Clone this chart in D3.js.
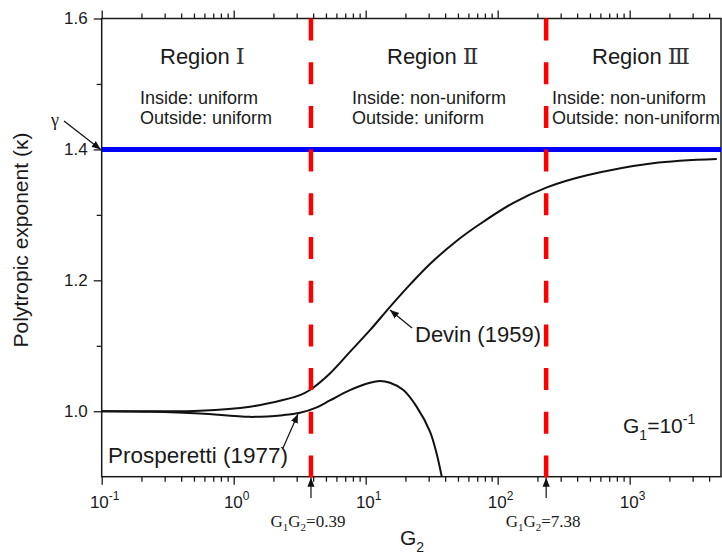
<!DOCTYPE html>
<html>
<head>
<meta charset="utf-8">
<script src="https://cdn.jsdelivr.net/npm/d3@7"></script>
<style>
  html, body { margin: 0; padding: 0; background: #fff; }
  svg { display: block; }
  text { font-family: "Liberation Sans", Arial, sans-serif; fill: #1a1a1a; }
</style>
</head>
<body>
<svg id="chart" width="722" height="554"></svg>
<script>
// ---------------- data ----------------
const devinG = [0.1, 0.25, 0.556, 1.33, 2.36, 3.18, 3.78, 5.36, 7.6, 10.78, 15.28, 22, 30.7, 48, 73.4, 130.6, 236, 475, 1500, 4570];
const devinK = [1.0, 1.0, 1.0008, 1.0069, 1.0171, 1.0247, 1.0325, 1.0577, 1.0907, 1.1238, 1.1595, 1.195, 1.225, 1.259, 1.286, 1.318, 1.342, 1.3605, 1.379, 1.3855];

const prospG = [0.1, 0.232, 0.556, 1.33, 2.36, 3.18, 4.26, 5.36, 7.6, 10.78, 12.83, 15.28, 19.3, 24.3, 30.7, 34.5, 37.7, 39];
const prospK = [1.0, 0.9992, 0.9966, 0.9914, 0.994, 0.9976, 1.006, 1.0165, 1.0323, 1.0435, 1.0461, 1.0435, 1.0324, 1.0071, 0.969, 0.935, 0.9, 0.885];

const gammaValue = 1.4;
const boundaryG = [3.85, 233];
const boundaryLabels = ["0.39", "7.38"];

const yTickValues = [1.0, 1.2, 1.4, 1.6];
const yTickLabels = ["1.0", "1.2", "1.4", "1.6"];
const yMinorTicks = [1.1, 1.3, 1.5];
const xMajorTicks = [0.1, 1, 10, 100, 1000];
const xTickExponents = ["-1", "0", "1", "2", "3"];

const regionNumerals = ["\u2160", "\u2161", "\u2162"];
const regionInside = ["Inside: uniform", "Inside: non-uniform", "Inside: non-uniform"];
const regionOutside = ["Outside: uniform", "Outside: uniform", "Outside: non-uniform"];

// ---------------- layout ----------------
const W = 722, H = 554;
const pL = 101.7, pR = 721, pT = 18.5, pB = 476.7;

const svg = d3.select("#chart");
svg.append("rect").attr("width", W).attr("height", H).attr("fill", "#fff");

const x = d3.scaleLog().domain([0.1, 4920]).range([pL, pR]);
const y = d3.scaleLinear().domain([0.9, 1.6]).range([pB, pT]);

const xMinor = [];
[0.1, 1, 10, 100, 1000].forEach(d => {
  for (let m = 2; m <= 9; m++) { const v = d * m; if (v <= 4920) xMinor.push(v); }
});

const defs = svg.append("defs");
defs.append("clipPath").attr("id", "plotclip")
  .append("rect").attr("x", pL).attr("y", pT).attr("width", pR - pL).attr("height", pB - pT);
defs.append("marker").attr("id", "arrow").attr("viewBox", "0 0 10 10")
  .attr("refX", 10).attr("refY", 5).attr("markerWidth", 9).attr("markerHeight", 9)
  .attr("markerUnits", "userSpaceOnUse").attr("orient", "auto")
  .append("path").attr("d", "M0,1 L10,5 L0,9 Z").attr("fill", "#111");

// ---------------- axes ----------------
function styleAxis(g) {
  g.select(".domain").remove();
  g.selectAll("line").attr("stroke", "#1a1a1a").attr("stroke-width", 1.3);
}
svg.append("g").attr("transform", `translate(0,${pB})`)
  .call(d3.axisBottom(x).tickValues(xMajorTicks).tickSize(8).tickFormat("")).call(styleAxis);
svg.append("g").attr("transform", `translate(0,${pB})`)
  .call(d3.axisBottom(x).tickValues(xMinor).tickSize(5).tickFormat("")).call(styleAxis);
svg.append("g").attr("transform", `translate(0,${pT})`)
  .call(d3.axisTop(x).tickValues(xMajorTicks).tickSize(8).tickFormat("")).call(styleAxis);
svg.append("g").attr("transform", `translate(0,${pT})`)
  .call(d3.axisTop(x).tickValues(xMinor).tickSize(5).tickFormat("")).call(styleAxis);
const yAx = svg.append("g").attr("transform", `translate(${pL},0)`)
  .call(d3.axisLeft(y).tickValues(yTickValues).tickSize(8).tickPadding(6)
    .tickFormat((d, i) => yTickLabels[i]));
yAx.call(styleAxis);
yAx.selectAll("text").attr("font-size", 17).attr("fill", "#222")
  .style("font-family", '"Liberation Sans", Arial, sans-serif');
svg.append("g").attr("transform", `translate(${pL},0)`)
  .call(d3.axisLeft(y).tickValues(yMinorTicks).tickSize(5).tickFormat("")).call(styleAxis);

svg.append("rect").attr("x", pL).attr("y", pT).attr("width", pR - pL).attr("height", pB - pT)
  .attr("fill", "none").attr("stroke", "#1a1a1a").attr("stroke-width", 1.5);

xMajorTicks.forEach((v, i) => {
  const t = svg.append("text").attr("x", x(v) + 3).attr("y", 508)
    .attr("text-anchor", "middle").attr("font-size", 17).attr("fill", "#222");
  t.append("tspan").text("10");
  t.append("tspan").attr("dy", -8).attr("font-size", 12).text(xTickExponents[i]);
});

// ---------------- curves ----------------
const line = d3.line().x(d => x(d[0])).y(d => y(d[1])).curve(d3.curveCatmullRom.alpha(0.5));
const plot = svg.append("g").attr("clip-path", "url(#plotclip)");
plot.append("path").datum(devinG.map((g, i) => [g, devinK[i]]))
  .attr("d", line).attr("fill", "none").attr("stroke", "#111").attr("stroke-width", 2);
plot.append("path").datum(prospG.map((g, i) => [g, prospK[i]]))
  .attr("d", line).attr("fill", "none").attr("stroke", "#111").attr("stroke-width", 2);

plot.append("line").attr("x1", pL).attr("x2", pR)
  .attr("y1", y(gammaValue)).attr("y2", y(gammaValue))
  .attr("stroke", "#0000ff").attr("stroke-width", 5);

boundaryG.forEach(g => {
  svg.append("line").attr("x1", x(g)).attr("x2", x(g))
    .attr("y1", y(1.6)).attr("y2", y(0.9) + 2)
    .attr("stroke", "#ff0000").attr("stroke-width", 4.5)
    .attr("stroke-dasharray", "22,21.7");
});

// ---------------- text annotations ----------------
const regionTitleX = [160, 387, 592];
const regionTextX = [140, 352, 552];
regionNumerals.forEach((n, i) => {
  const t = svg.append("text").attr("x", regionTitleX[i]).attr("y", 63.5).attr("font-size", 22);
  t.append("tspan").text("Region ");
  t.append("tspan").style("font-family", '"Liberation Serif", "DejaVu Serif", serif')
    .attr("font-size", 23).attr("fill", "#333").text(n);
  svg.append("text").attr("x", regionTextX[i]).attr("y", 103.5).attr("font-size", 18).text(regionInside[i]);
  svg.append("text").attr("x", regionTextX[i]).attr("y", 123.5).attr("font-size", 18).text(regionOutside[i]);
});

svg.append("text").attr("x", 55).attr("y", 126).attr("text-anchor", "middle")
  .style("font-family", '"Liberation Serif", "DejaVu Serif", serif').attr("font-size", 18).text("\u03B3");
svg.append("line").attr("x1", 64).attr("y1", 121).attr("x2", pL - 1).attr("y2", y(gammaValue))
  .attr("stroke", "#111").attr("stroke-width", 1.2).attr("marker-end", "url(#arrow)");

svg.append("text").attr("x", 415).attr("y", 342).attr("font-size", 22).text("Devin (1959)");
svg.append("line").attr("x1", 412).attr("y1", 328).attr("x2", 390).attr("y2", 310)
  .attr("stroke", "#111").attr("stroke-width", 1.2).attr("marker-end", "url(#arrow)");

svg.append("text").attr("x", 108).attr("y", 462.5).attr("font-size", 22.5).text("Prosperetti (1977)");
svg.append("line").attr("x1", 283).attr("y1", 448).attr("x2", 298).attr("y2", 414)
  .attr("stroke", "#111").attr("stroke-width", 1.2).attr("marker-end", "url(#arrow)");

const g1 = svg.append("text").attr("x", 623).attr("y", 433).attr("font-size", 21);
g1.append("tspan").text("G");
g1.append("tspan").attr("dy", 7).attr("font-size", 14).text("1");
g1.append("tspan").attr("dy", -7).text("=10");
g1.append("tspan").attr("dy", -9).attr("font-size", 14).text("-1");

boundaryG.forEach((g, i) => {
  const cx = x(g);
  svg.append("line").attr("x1", cx).attr("y1", 498).attr("x2", cx).attr("y2", pB + 1)
    .attr("stroke", "#111").attr("stroke-width", 1.2).attr("marker-end", "url(#arrow)");
  const t = svg.append("text").attr("x", cx - 3).attr("y", 527).attr("text-anchor", "middle")
    .style("font-family", '"Liberation Serif", "Times New Roman", serif').attr("font-size", 17).attr("fill", "#444");
  t.append("tspan").text("G");
  t.append("tspan").attr("dy", 4).attr("font-size", 11).text("1");
  t.append("tspan").attr("dy", -4).text("G");
  t.append("tspan").attr("dy", 4).attr("font-size", 11).text("2");
  t.append("tspan").attr("dy", -4).text("=" + boundaryLabels[i]);
});

const g2 = svg.append("text").attr("x", 400).attr("y", 545).attr("font-size", 21);
g2.append("tspan").text("G");
g2.append("tspan").attr("dy", 7).attr("font-size", 14).text("2");

svg.append("text").attr("transform", "translate(28,240) rotate(-90)")
  .attr("text-anchor", "middle").attr("font-size", 21).text("Polytropic exponent (\u03BA)");
</script>
</body>
</html>
